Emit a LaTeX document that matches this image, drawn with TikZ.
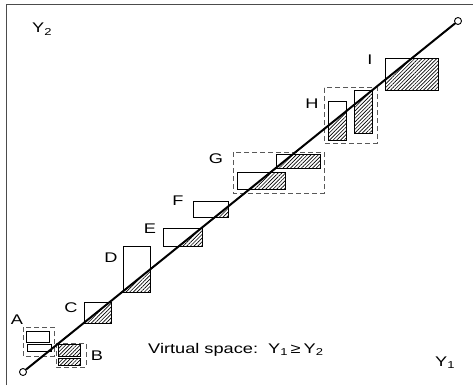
\documentclass[tikz,border=0pt]{standalone}
\usepackage{fontspec}
\setmainfont{Liberation Sans}
\usetikzlibrary{patterns.meta}
% subscript digit, set a little lower and smaller
\newcommand\sbs[1]{\raisebox{-0.4ex}{\fontsize{10}{10}\selectfont #1}}
% text widened horizontally
\newcommand\wide[1]{\scalebox{1.3}[1]{#1}}
\begin{document}
\begin{tikzpicture}[x=1pt,y=-1pt,
  box/.style={draw=black,line width=1pt},
  hatch/.style={pattern={Lines[angle=45,distance=2.6pt,line width=0.65pt]}},
  group/.style={draw=black!65,dash pattern=on 5pt off 3pt,line width=1pt},
  lbl/.style={font=\fontsize{14}{16}\selectfont,inner sep=0pt},
  diag/.style={line width=2pt},
  tipcircle/.style={circle,draw,line width=0.9pt,minimum size=7pt,inner sep=0pt}
]
\useasboundingbox (0,0) rectangle (473,385);

% frame
\draw[black!70,line width=1pt] (6,385) -- (6,5) -- (473,5);

% axis labels and caption
\node[lbl,anchor=base west] (y2) at (32,33) {\wide{Y\sbs{2}}};
\node[lbl,anchor=base west] (y1) at (435,366) {\wide{Y\sbs{1}}};
\node[lbl,anchor=base west] (cap) at (148,353) {\wide{Virtual space:\ \ Y\sbs{1}\,≥\,Y\sbs{2}}};

% hatched parts: everything below the diagonal
\begin{scope}
  \clip (0,390.56) -- (473,8.88) -- (480,400) -- (0,400) -- cycle;
  \fill[hatch] (84,302) rectangle (111,323);
  \fill[hatch] (123,246) rectangle (150,292);
  \fill[hatch] (163,228) rectangle (202,246);
  \fill[hatch] (193,201) rectangle (228,217);
  \fill[hatch] (237,172) rectangle (285,189);
  \fill[hatch] (276,154) rectangle (320,168);
  \fill[hatch] (328,102) rectangle (346,140);
  \fill[hatch] (354,91) rectangle (372,133);
  \fill[hatch] (385,59) rectangle (438,91);
  \fill[hatch] (58,344) rectangle (80,356);
  \fill[hatch] (58,358) rectangle (80,365);
\end{scope}

% boxes
\draw[box] (26,331) rectangle (49,342);
\draw[box] (27,344) rectangle (51,351);
\draw[box] (58,344) rectangle (80,356);
\draw[box] (58,358) rectangle (80,365);
\draw[box] (84,302) rectangle (111,323);
\draw[box] (123,246) rectangle (150,292);
\draw[box] (163,228) rectangle (202,246);
\draw[box] (193,201) rectangle (228,217);
\draw[box] (237,172) rectangle (285,189);
\draw[box] (276,154) rectangle (320,168);
\draw[box] (328,102) rectangle (346,140);
\draw[box] (354,91) rectangle (372,133);
\draw[box] (385,59) rectangle (438,91);

% dashed groups
\draw[group] (23,327) rectangle (54,356);
\draw[group] (56,343) rectangle (86,367);
\draw[group] (233,152) rectangle (324,193);
\draw[group] (324,88) rectangle (377,143);

% letters
\node[lbl] (la) at (17,320) {\wide{A}};
\node[lbl] (lb) at (97,356) {\wide{B}};
\node[lbl] (lc) at (71,308) {\wide{C}};
\node[lbl] (ld) at (111,258) {\wide{D}};
\node[lbl] (le) at (150,229) {\wide{E}};
\node[lbl] (lf) at (178,201) {\wide{F}};
\node[lbl] (lg) at (216,159) {\wide{G}};
\node[lbl] (lh) at (312,104) {\wide{H}};
\node[lbl] (li) at (370,60) {\wide{I}};

% diagonal
\node[tipcircle] (p0) at (23,372) {};
\node[tipcircle] (p1) at (458,21) {};
\draw[diag] (p0) -- (p1);
\end{tikzpicture}
\end{document}
